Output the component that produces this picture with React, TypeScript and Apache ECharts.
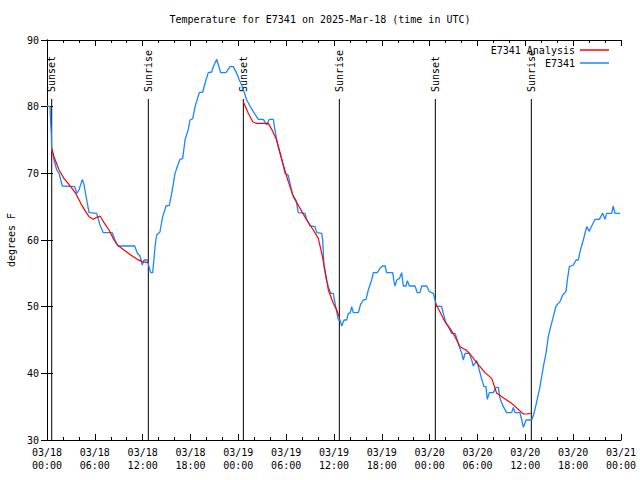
import React, { useEffect, useRef } from "react";
import * as echarts from "echarts";

// Hours since 03/18 00:00 UTC, temperature in degrees F
const OBSERVED: [number, number][] = [
  [0.0, 80.1], [0.38, 80], [0.46, 77.5], [0.54, 76], [0.59, 73.75], [0.88, 72], [1.22, 70.5], [1.51, 70],
  [1.92, 68.1], [3.47, 68], [3.73, 67], [4.01, 67.5], [4.43, 69.1], [4.64, 68.3], [4.98, 66], [5.27, 64.1],
  [6.23, 64], [6.65, 62.25], [7.06, 61.1], [8.19, 61.1], [8.53, 60], [8.91, 59.1], [11.0, 59.1], [11.33, 58],
  [11.67, 57.6], [11.95, 56.25], [12.17, 57], [12.58, 57], [12.79, 56], [13.01, 55.1], [13.26, 55.1], [13.55, 59],
  [13.76, 60.75], [14.17, 61.2], [14.51, 63.5], [14.93, 65.1], [15.34, 65.2], [15.64, 67], [16.06, 70], [16.27, 70.75],
  [16.68, 72.1], [17.02, 72.2], [17.31, 75], [17.72, 76.6], [17.94, 78], [18.28, 78.2], [18.57, 80], [19.1, 82.1],
  [19.53, 82.2], [19.94, 84], [20.23, 85.1], [20.66, 85.2], [20.86, 86], [21.29, 87.1], [21.79, 85.1], [22.45, 85.1],
  [22.96, 86], [23.37, 86], [23.8, 85], [24.12, 84], [24.42, 83.25], [24.71, 82.25], [25.05, 81], [25.46, 80.1],
  [25.88, 79.25], [26.51, 78.1], [27.14, 78.1], [27.56, 77.25], [27.89, 78.1], [28.39, 78.1], [28.6, 76.5], [28.89, 74.5],
  [29.23, 73], [29.57, 71.5], [29.85, 70], [30.27, 69.7], [30.48, 68.5], [30.82, 66.75], [31.23, 66], [31.52, 64.1],
  [32.36, 64], [32.58, 63.1], [32.99, 62.1], [33.62, 62], [33.83, 61.1], [34.46, 61], [34.58, 60], [34.75, 56],
  [35.0, 54.25], [35.29, 53], [35.59, 52], [35.91, 52], [36.13, 50.5], [36.34, 49.25], [36.54, 48], [36.75, 48],
  [36.97, 47.1], [37.26, 48], [37.59, 48], [37.79, 49], [38.01, 49], [38.22, 50], [38.42, 49.1], [39.05, 49.1],
  [39.35, 50.4], [39.68, 51], [40.02, 51.1], [40.3, 52.5], [40.73, 54], [40.93, 55.1], [41.43, 55.1], [41.77, 55.75],
  [42.11, 56.1], [42.4, 56.1], [42.61, 55.1], [43.36, 55.1], [43.53, 53.75], [43.65, 53.1], [43.87, 54], [44.19, 54.2],
  [44.49, 55.1], [44.69, 53.1], [45.03, 53.1], [45.2, 53.9], [45.45, 53.1], [46.16, 53.1], [46.45, 52.1], [46.79, 52.1],
  [47.0, 53.1], [47.63, 53.1], [47.96, 52.25], [48.46, 52], [48.67, 51], [48.88, 50.1], [49.51, 50], [49.71, 49],
  [50.05, 47.5], [50.34, 47], [50.76, 46], [51.18, 46], [51.47, 45], [51.72, 44], [52.02, 43], [52.22, 42],
  [52.44, 43], [52.97, 43], [53.27, 42], [53.47, 41.1], [53.9, 41.9], [54.22, 40.5], [54.53, 39.1], [54.81, 38],
  [55.06, 38], [55.23, 36.1], [55.48, 37.1], [55.98, 37.1], [56.32, 37.9], [56.61, 37.9], [56.82, 36.25], [57.24, 35],
  [57.66, 34.1], [58.29, 34.1], [58.49, 34.9], [58.71, 34.1], [59.33, 34.1], [59.55, 33], [59.75, 31.9], [60.09, 33],
  [60.8, 33], [61.09, 34], [61.43, 35.75], [61.84, 38], [62.26, 41], [62.59, 43], [62.88, 45.5], [63.18, 47],
  [63.51, 48.5], [63.85, 50.1], [64.35, 50.75], [64.69, 51.75], [65.1, 52.25], [65.27, 54], [65.52, 56], [66.02, 56.25],
  [66.36, 57], [66.65, 57], [66.86, 58.25], [67.27, 60], [67.7, 62], [68.02, 61.3], [68.33, 62.1], [68.74, 63.1],
  [69.28, 63.1], [69.7, 64], [69.99, 63.1], [70.2, 64], [70.83, 64], [71.03, 65.1], [71.25, 64], [71.88, 64],
];

const ANALYSIS_NIGHT1: [number, number][] = [
  [0.59, 73.75], [0.88, 72.5], [1.51, 70.5], [2.13, 69.25], [2.97, 68], [3.6, 67], [4.23, 65.5], [4.85, 64.25],
  [5.27, 63.5], [5.81, 63.1], [6.23, 63.4], [6.65, 63.6], [7.15, 62.6], [7.78, 61.5], [8.4, 60], [8.82, 59.25],
  [9.66, 58.5], [10.5, 57.75], [11.33, 57.1], [11.95, 56.75], [12.67, 56.6],
];
const ANALYSIS_NIGHT2: [number, number][] = [
  [24.62, 80.75], [25.25, 79], [25.8, 77.75], [26.22, 77.5], [27.76, 77.5], [28.18, 76.6], [28.81, 75], [29.64, 71.25],
  [30.27, 68.75], [30.9, 66.5], [31.74, 64.75], [32.58, 63], [33.4, 61.5], [34.03, 60.25], [34.46, 58], [34.87, 55.5],
  [35.29, 52.5], [35.91, 50.5], [36.34, 49.5], [36.67, 48.4],
];
const ANALYSIS_NIGHT3: [number, number][] = [
  [48.71, 50.5], [49.3, 49.2], [49.92, 47.75], [50.55, 46.75], [51.18, 45.5], [51.8, 44], [52.56, 43.5], [53.06, 42.9],
  [53.9, 41.6], [54.94, 40.1], [55.78, 39.25], [56.41, 37], [57.04, 36.5], [58.29, 35.5], [59.75, 33.9], [60.17, 33.9],
  [60.67, 34],
];

const SUN_HOURS = [0.59, 12.71, 24.63, 36.67, 48.71, 60.75];
const SUN_LABELS = ["Sunset", "Sunrise", "Sunset", "Sunrise", "Sunset", "Sunrise"];
const SUN_LINE_TOP = 81.15;

const X_TICK_LABELS = [
  "03/18\n00:00", "03/18\n06:00", "03/18\n12:00", "03/18\n18:00",
  "03/19\n00:00", "03/19\n06:00", "03/19\n12:00", "03/19\n18:00",
  "03/20\n00:00", "03/20\n06:00", "03/20\n12:00", "03/20\n18:00",
  "03/21\n00:00",
];

const Y_MIN = 30;
const Y_MAX = 90;
const X_MAX = 72;

const FONT = "'DejaVu Sans Mono', monospace";
const RED = "#ff0000";
const BLUE = "#1a86ff";

export default function App() {
  const ref = useRef<HTMLDivElement>(null);

  useEffect(() => {
    if (!ref.current) return;
    const chart = echarts.init(ref.current, undefined, { renderer: "svg" });

    const axisLine = { show: true, lineStyle: { color: "#000", width: 1 } };
    const analysisSeries = [ANALYSIS_NIGHT1, ANALYSIS_NIGHT2, ANALYSIS_NIGHT3].map((d) => ({
      name: "E7341 Analysis",
      type: "line",
      data: d,
      symbol: "none",
      showSymbol: false,
      lineStyle: { color: RED, width: 1.2 },
      itemStyle: { color: RED },
      z: 4,
    }));

    const legendCommon = {
      right: 31,
      padding: 0,
      orient: "vertical",
      align: "right",
      icon: "rect",
      itemWidth: 29,
      itemHeight: 1.5,
      textStyle: { fontFamily: FONT, fontSize: 10, color: "#000" },
    };

    chart.setOption({
      animation: false,
      backgroundColor: "#fff",
      title: {
        text: "Temperature for E7341 on 2025-Mar-18 (time in UTC)",
        left: "center",
        top: 9,
        textStyle: { fontFamily: FONT, fontSize: 10, fontWeight: "normal", color: "#000" },
      },
      legend: [
        { ...legendCommon, data: ["E7341 Analysis"], top: 45 },
        { ...legendCommon, data: ["E7341"], top: 58 },
      ],
      grid: { left: 47, right: 19, top: 40, bottom: 40, containLabel: false, outerBoundsMode: "none" },
      xAxis: [
        {
          type: "value",
          min: 0,
          max: X_MAX,
          interval: 6,
          position: "bottom",
          axisLine,
          axisTick: { show: true, inside: true, length: 6, lineStyle: { color: "#000" } },
          minorTick: { show: true, splitNumber: 3, length: 3, lineStyle: { color: "#000" } },
          splitLine: { show: false },
          axisLabel: {
            fontFamily: FONT,
            fontSize: 10,
            color: "#000",
            lineHeight: 13,
            margin: 6,
            formatter: (v: number) => X_TICK_LABELS[Math.round(v / 6)] ?? "",
          },
        },
        {
          type: "value",
          min: 0,
          max: X_MAX,
          interval: 6,
          position: "top",
          axisLine,
          axisTick: { show: true, inside: true, length: 6, lineStyle: { color: "#000" } },
          minorTick: { show: true, splitNumber: 3, length: 3, lineStyle: { color: "#000" } },
          splitLine: { show: false },
          axisLabel: { show: false },
        },
      ],
      yAxis: [
        {
          type: "value",
          min: Y_MIN,
          max: Y_MAX,
          interval: 10,
          position: "left",
          name: "degrees F",
          nameLocation: "middle",
          nameGap: 31,
          nameTextStyle: { fontFamily: FONT, fontSize: 10, color: "#000" },
          axisLine,
          axisTick: { show: true, inside: true, length: 6, lineStyle: { color: "#000" } },
          splitLine: { show: false },
          axisLabel: { fontFamily: FONT, fontSize: 10, color: "#000", margin: 8 },
        },
        {
          type: "value",
          min: Y_MIN,
          max: Y_MAX,
          interval: 10,
          position: "right",
          axisLine,
          axisTick: { show: true, inside: true, length: 6, lineStyle: { color: "#000" } },
          splitLine: { show: false },
          axisLabel: { show: false },
        },
      ],
      series: [
        {
          type: "custom",
          name: "sun",
          data: SUN_HOURS.map((h) => [h, SUN_LINE_TOP]),
          encode: { x: 0, y: 1 },
          silent: true,
          z: 1,
          renderItem: (params: any, api: any) => {
            const h = api.value(0);
            const top = api.coord([h, api.value(1)]);
            const bot = api.coord([h, Y_MIN]);
            return {
              type: "group",
              children: [
                {
                  type: "line",
                  shape: { x1: top[0], y1: top[1], x2: bot[0], y2: bot[1] },
                  style: { stroke: "#000", lineWidth: 1 },
                },
                {
                  type: "text",
                  x: top[0],
                  y: top[1] - 7,
                  rotation: Math.PI / 2,
                  style: {
                    text: SUN_LABELS[params.dataIndex],
                    font: `10px ${FONT}`,
                    fill: "#000",
                    align: "left",
                    verticalAlign: "middle",
                  },
                },
              ],
            };
          },
        },
        ...analysisSeries,
        {
          name: "E7341",
          type: "line",
          data: OBSERVED,
          symbol: "none",
          showSymbol: false,
          lineStyle: { color: BLUE, width: 1.3 },
          itemStyle: { color: BLUE },
          z: 3,
        },
      ],
    });

    return () => chart.dispose();
  }, []);

  return (
    <div
      ref={ref}
      style={{ position: "fixed", left: 0, top: 0, width: 640, height: 480, background: "#fff" }}
    />
  );
}
